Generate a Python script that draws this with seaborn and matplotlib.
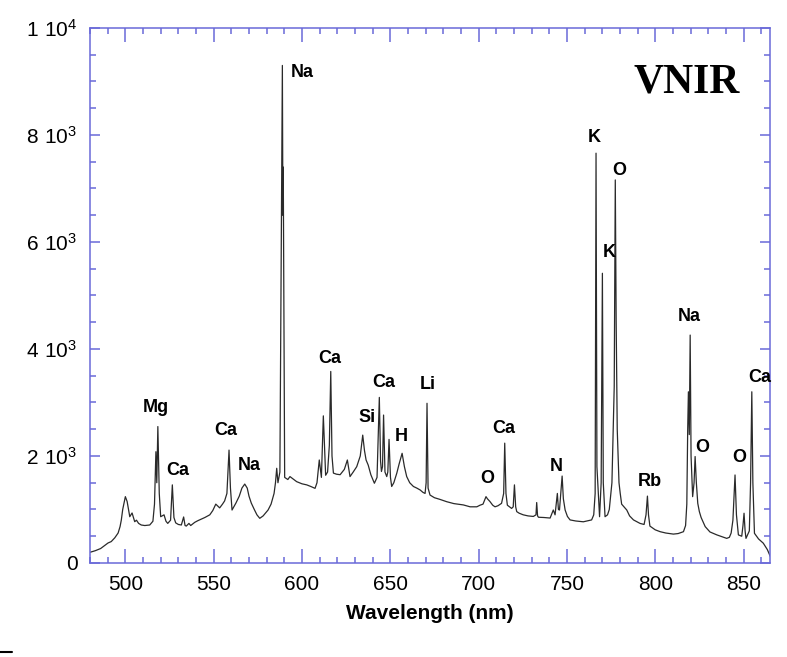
import numpy as np
import pandas as pd
import seaborn as sns
import matplotlib.pyplot as plt
from matplotlib.lines import Line2D
from matplotlib.ticker import MultipleLocator

# spectrum: (wavelength nm, intensity counts)
wavelength = [
    480.0, 483, 486, 488, 490.2, 492, 494, 495.9, 497, 497.7, 498.5, 500, 501, 502.5, 503.8,
    505.3, 506.3, 507.5, 509, 511, 513.8, 515.6, 516.5, 517.3, 517.8, 518.4, 519.2, 520, 521.9,
    523, 524, 525.6, 526.6, 527.5, 528.5, 530, 531.7, 533, 533.8, 534.5, 536, 537, 539.3, 541,
    543, 545, 547.8, 549.5, 551.2, 553.4, 555, 556.2, 557.5, 558.7, 559.5, 560.4, 562.6, 564.5,
    566, 567.6, 569, 570, 571.3, 573, 574.5, 576.1, 578, 580.8, 582.5, 584.2, 585.0, 585.7,
    586.4, 587.5, 588.9, 589.2, 589.4, 590.2, 592, 593.2, 597, 600, 602.7, 605, 607.4, 608.5,
    609.8, 611, 612.1, 613.4, 614.5, 615.5, 616.3, 617.0, 617.8, 619.5, 621.6, 624, 625.7,
    627.2, 629, 631, 633, 634.4, 635.4, 636.3, 637.5, 639, 641, 642.5, 643.8, 644.5, 645,
    645.6, 646.2, 647, 648, 648.6, 649.3, 650.1, 650.8, 652, 653.7, 655, 656.7, 658, 659.3,
    661, 663.1, 665, 666.9, 668.5, 669.7, 670.3, 670.8, 671.4, 672.5, 675, 678, 682, 686,
    691.4, 695.2, 699, 700.8, 702.5, 704.2, 705, 706.4, 708, 709.3, 711, 713, 714.2, 714.8,
    715.5, 716.3, 718.7, 719.6, 720.3, 721, 721.6, 723, 725.3, 728, 731, 732.5, 732.9, 733.4,
    733.9, 737, 740.5, 742.3, 743.3, 744.6, 745.2, 745.8, 747.3, 748, 749, 750.3, 751.8, 755,
    759.3, 762, 764, 765.2, 766, 766.5, 767.0, 768.5, 769.4, 770.1, 770.6, 771.6, 773, 774,
    775.5, 776.8, 777.4, 777.9, 778.5, 779.5, 780.2, 781, 783.9, 785.5, 787.7, 791.4, 793.7,
    794.8, 795.6, 796.2, 797, 800, 802.8, 806, 810.3, 813, 816, 817.2, 817.9, 818.4, 818.8,
    819.3, 819.8, 820.3, 821.2, 822.0, 822.6, 823.3, 824.1, 825, 826, 828.3, 831, 834.9, 838,
    840.5, 842, 843, 844, 845.2, 846, 847.1, 849, 849.7, 850.3, 850.9, 851.4, 853.3, 854.0,
    854.7, 855.3, 856.2, 858.5, 861.2, 863.5, 866,
]
intensity = [
    200, 230, 270, 320, 374, 400, 470, 560, 680, 800, 1000, 1240, 1150, 865, 935,
    772, 800, 740, 710, 700, 710, 780, 1100, 2080, 1500, 2550, 1300, 865, 900,
    780, 740, 800, 1460, 850, 750, 720, 710, 860, 700, 690, 740, 700, 760, 790,
    820, 850, 900, 980, 1100, 1030, 1100, 1160, 1300, 2110, 1400, 990, 1120, 1250,
    1400, 1475, 1400, 1250, 1120, 1000, 900, 835, 880, 990, 1100, 1300, 1500, 1770,
    1500, 1700, 9300, 6500, 7400, 1600, 1560, 1615, 1520, 1480, 1460, 1430, 1395, 1500,
    1925, 1600, 2750, 1640, 1700, 2200, 3580, 2000, 1680, 1660, 1650, 1750, 1925,
    1615, 1700, 1800, 2000, 2390, 2100, 1925, 1830, 1650, 1490, 1600, 3095, 1900, 1710,
    1800, 2765, 1700, 1615, 1700, 2310, 1600, 1430, 1500, 1680, 1850, 2050, 1800, 1615,
    1500, 1430, 1400, 1365, 1320, 1300, 1500, 2985, 1400, 1270, 1220, 1190, 1145, 1110,
    1085, 1050, 1050, 1080, 1100, 1240, 1200, 1150, 1080, 1050, 1070, 1115, 1300, 2240,
    1300, 1080, 1020, 1050, 1460, 1050, 960, 930, 900, 880, 870, 900, 1130, 880,
    855, 850, 840, 990, 900, 1300, 1000, 990, 1625, 1200, 990, 870, 805, 785,
    770, 790, 805, 900, 1300, 7660, 1800, 865, 1500, 5415, 1500, 865, 900, 1000,
    1500, 3300, 7160, 4500, 2500, 1500, 1300, 1100, 990, 880, 805, 740, 720,
    900, 1250, 900, 690, 620, 585, 560, 540, 550, 585, 700, 1100, 2500, 3200,
    2400, 4260, 2000, 1240, 1500, 1990, 1500, 1115, 960, 850, 680, 580, 525, 490,
    460, 480, 560, 800, 1645, 900, 525, 500, 700, 930, 600, 460, 600, 1500,
    3200, 1500, 555, 450, 370, 250, 60,
]

# line labels: element, wavelength position, intensity position
elements = ["Mg", "Ca", "Ca", "Na", "Na", "Ca", "Si", "Ca", "H", "Li", "O", "Ca",
            "N", "K", "O", "K", "Na", "Rb", "O", "O", "Ca"]
label_x = [517.4, 529.8, 557.0, 570.0, 600.0, 615.9, 636.9, 646.5, 656.1, 671.4, 704.8, 714.4,
           743.9, 765.4, 779.5, 773.9, 819.2, 797.1, 826.6, 847.5, 859.4]
label_y = [2900, 1720, 2485, 1830, 9175, 3830, 2710, 3380, 2355, 3330, 1570, 2505,
           1795, 7960, 7345, 5810, 4615, 1515, 2150, 1980, 3475]

xticks = [500, 550, 600, 650, 700, 750, 800, 850]
yticks = [0, 2000, 4000, 6000, 8000, 10000]
ytick_labels = ["0", r"$\mathregular{2\ 10^{3}}$", r"$\mathregular{4\ 10^{3}}$",
                r"$\mathregular{6\ 10^{3}}$", r"$\mathregular{8\ 10^{3}}$",
                r"$\mathregular{1\ 10^{4}}$"]

FRAME = "#6a6ad8"


def main():
    sns.set_style("ticks")
    plt.rcParams["font.family"] = ["Liberation Sans", "DejaVu Sans"]
    plt.rcParams["mathtext.default"] = "regular"
    plt.rcParams["text.color"] = "black"
    plt.rcParams["axes.labelcolor"] = "black"

    df = pd.DataFrame({"wavelength": wavelength, "intensity": intensity})

    fig = plt.figure(figsize=(7.87, 6.57), dpi=100, facecolor="white")
    ax = fig.add_axes([0.1144, 0.1431, 0.864, 0.8143])

    sns.lineplot(data=df, x="wavelength", y="intensity", ax=ax, estimator=None,
                 sort=False, color="#2a2a2a", linewidth=0.9)

    for name, lx, ly in zip(elements, label_x, label_y):
        ax.text(lx, ly, name, ha="center", va="center", fontsize=13,
                fontweight="bold", color="black")

    ax.text(818, 8990, "VNIR", ha="center", va="center", fontsize=30, color="black",
            fontweight="bold", family=["Liberation Serif", "DejaVu Serif"])

    ax.set_xlim(480, 865)
    ax.set_ylim(0, 10000)
    ax.set_xticks(xticks)
    ax.set_yticks(yticks, labels=ytick_labels)
    ax.xaxis.set_minor_locator(MultipleLocator(10))
    ax.yaxis.set_minor_locator(MultipleLocator(500))

    ax.tick_params(axis="both", which="both", direction="in", top=True, right=True,
                   color=FRAME, width=1.1, labelsize=15, labelcolor="black")
    ax.tick_params(axis="x", which="major", length=10, pad=9)
    ax.tick_params(axis="y", which="major", length=7, pad=9)
    ax.tick_params(axis="both", which="minor", length=4.3)

    for sp in ax.spines.values():
        sp.set_color(FRAME)
        sp.set_linewidth(1.1)

    ax.set_xlabel("Wavelength (nm)", fontsize=15, fontweight="bold", labelpad=7,
                  color="black")
    ax.set_ylabel("")

    # small stray mark at the lower left corner
    fig.add_artist(Line2D([0.0, 0.015], [0.0076, 0.0076], color="black", linewidth=1.5))

    fig.savefig("out.png", dpi=100, facecolor="white")
    plt.close(fig)


if __name__ == "__main__":
    main()
